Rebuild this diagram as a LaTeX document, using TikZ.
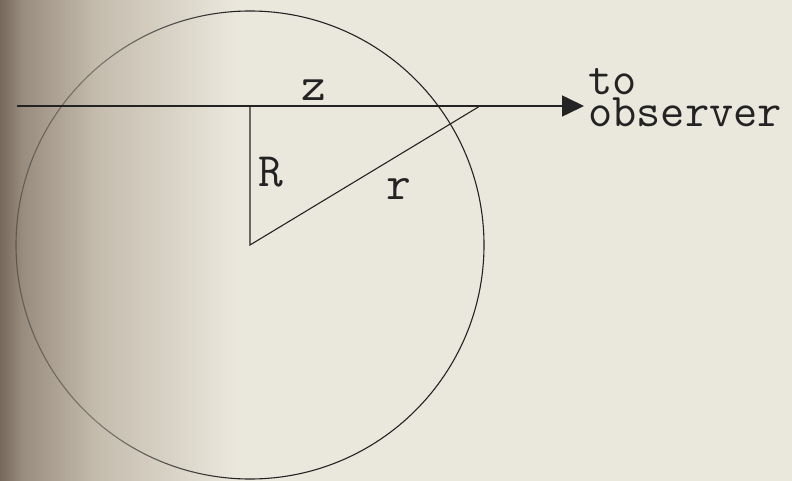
\documentclass[tikz,border=0pt]{standalone}
\usetikzlibrary{arrows.meta,fadings}
\definecolor{paper}{RGB}{234,231,220}
\definecolor{paperA}{RGB}{196,187,173}
\definecolor{paperB}{RGB}{152,140,126}
\definecolor{paperdark}{RGB}{118,104,90}
\definecolor{ink}{RGB}{35,35,35}
\tikzset{
  ln/.style={draw=ink, line width=1.1pt},
  axisline/.style={draw=ink, line width=1.6pt},
  lbl/.style={inner sep=0pt, text=ink, font=\fontsize{48}{48}\selectfont\ttfamily},
  obs/.style={inner sep=0pt, text=ink, align=left, font=\fontsize{47}{32}\selectfont\ttfamily},
  pageA/.style={left color=paperdark, right color=paperB},
  pageB/.style={left color=paperB, right color=paperA},
  pageC/.style={left color=paperA, right color=paper}
}
\begin{document}
\begin{tikzpicture}[x=1pt, y=-1pt]
\useasboundingbox (0,0) rectangle (792,481);
% paper background with darkened left edge
\fill[paper] (0,0) rectangle (792,481);
\shade[pageA] (0,0) rectangle (22,481);
\shade[pageB] (22,0) rectangle (95,481);
\shade[pageC] (95,0) rectangle (235,481);
% geometry
\coordinate (C) at (250,245);
\coordinate (F) at (250,106);
\coordinate (P) at (480,106);
\coordinate (S) at (17,106);
\coordinate (E) at (584,106);
\node[ln, circle, minimum size=468pt, inner sep=0pt] (sphere) at (C) {};
% fade left part of circle (page curvature)
\shade[pageA, opacity=0.55] (0,0) rectangle (22,481);
\shade[pageB, opacity=0.55] (22,0) rectangle (95,481);
\shade[pageC, opacity=0.55, path fading=east] (95,0) rectangle (235,481);
\draw[axisline, -{Triangle[length=22pt, width=21pt]}] (S) -- (E);
\draw[ln] (F) -- (C) -- (P);
% labels
\node[lbl] (z) at (314,90) {z};
\node[lbl] (R) at (271,172) {R};
\node[lbl] (r) at (399,189) {r};
\node[obs, anchor=north west] (to) at (588,68) {to\\observer};
\end{tikzpicture}
\end{document}
